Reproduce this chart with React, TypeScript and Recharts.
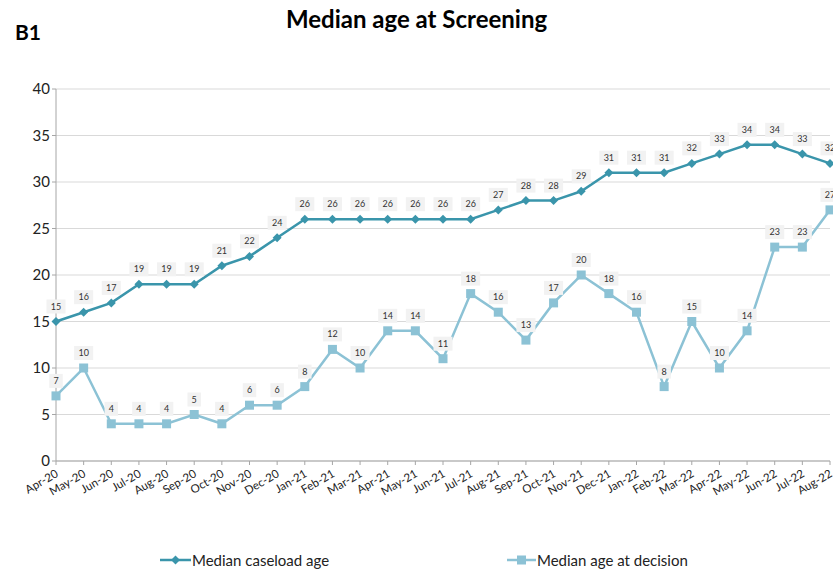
import React from "react";
import { LineChart, Line, XAxis, YAxis, CartesianGrid, LabelList, Legend } from "recharts";

const months = [
  "Apr-20","May-20","Jun-20","Jul-20","Aug-20","Sep-20","Oct-20","Nov-20","Dec-20",
  "Jan-21","Feb-21","Mar-21","Apr-21","May-21","Jun-21","Jul-21","Aug-21","Sep-21","Oct-21","Nov-21","Dec-21",
  "Jan-22","Feb-22","Mar-22","Apr-22","May-22","Jun-22","Jul-22","Aug-22",
];
const caseloadAge = [15,16,17,19,19,19,21,22,24,26,26,26,26,26,26,26,27,28,28,29,31,31,31,32,33,34,34,33,32];
const decisionAge = [7,10,4,4,4,5,4,6,6,8,12,10,14,14,11,18,16,13,17,20,18,16,8,15,10,14,23,23,27];
const yTicks = [0,5,10,15,20,25,30,35,40];

const data = months.map((m, i) => ({ month: m, caseload: caseloadAge[i], decision: decisionAge[i] }));

const C1 = "#3a95ab";
const C2 = "#8cc2d5";
const FONT = "Lato, 'Open Sans', sans-serif";

const Diamond = (props: any) => {
  const { cx, cy, index } = props;
  if (cx == null || cy == null) return <g key={index} />;
  const r = 4.5;
  return <polygon key={index} points={`${cx},${cy - r} ${cx + r},${cy} ${cx},${cy + r} ${cx - r},${cy}`} fill={C1} />;
};
const Square = (props: any) => {
  const { cx, cy, index } = props;
  if (cx == null || cy == null) return <g key={index} />;
  const s = 9;
  return <rect key={index} x={cx - s / 2} y={cy - s / 2} width={s} height={s} fill={C2} />;
};

const BoxLabel = (props: any) => {
  const { x, y, value } = props;
  const w = String(value).length * 5.5 + 8;
  return (
    <g>
      <rect x={x - w / 2} y={y - 22} width={w} height={14} fill="#f2f2f2" />
      <text x={x} y={y - 12} textAnchor="middle" fontSize={9} fill="#333" fontFamily={FONT}>{value}</text>
    </g>
  );
};

const XTick = (props: any) => {
  const { x, y, payload } = props;
  return (
    <text x={x + 3} y={y + 9} textAnchor="end" fontSize={11.5} fill="#222" fontFamily={FONT}
      transform={`rotate(-30, ${x + 3}, ${y + 9})`}>{payload.value}</text>
  );
};

const LegendContent = () => (
  <div style={{ position: "relative", width: 833, height: 40, fontFamily: FONT, fontSize: 15, color: "#222" }}>
    <div style={{ position: "absolute", left: 160, top: 19, display: "flex", alignItems: "center" }}>
      <svg width={31} height={20}>
        <line x1={0} y1={10} x2={31} y2={10} stroke={C1} strokeWidth={2.5} />
        <polygon points="15.5,5.5 20,10 15.5,14.5 11,10" fill={C1} />
      </svg>
      <span style={{ marginLeft: 1 }}>Median caseload age</span>
    </div>
    <div style={{ position: "absolute", left: 507, top: 19, display: "flex", alignItems: "center" }}>
      <svg width={29} height={20}>
        <line x1={0} y1={10} x2={29} y2={10} stroke={C2} strokeWidth={2.5} />
        <rect x={10} y={5.5} width={9} height={9} fill={C2} />
      </svg>
      <span style={{ marginLeft: 1 }}>Median age at decision</span>
    </div>
  </div>
);

export default function App() {
  return (
    <div style={{ position: "absolute", left: 0, top: 0, width: 833, height: 571, background: "#fff", fontFamily: FONT }}>
      <div style={{ position: "absolute", left: 15, top: 19, fontSize: 21, fontWeight: 700, color: "#000" }}>B1</div>
      <div style={{ position: "absolute", left: 0, width: 833, top: 4, textAlign: "center", fontSize: 24, fontWeight: 700, color: "#000" }}>
        Median age at Screening
      </div>
      <LineChart width={833} height={571} data={data} margin={{ top: 89, right: 3, left: 0, bottom: 0 }}>
        <CartesianGrid vertical={false} stroke="#d9d9d9" />
        <XAxis dataKey="month" interval={0} height={70} tick={<XTick />} stroke="#a6a6a6" tickSize={4} />
        <YAxis domain={[0, 40]} ticks={yTicks} width={56} stroke="#a6a6a6" tickSize={4}
          tick={{ fill: "#222", fontSize: 15, fontFamily: FONT }} />
        <Legend verticalAlign="bottom" height={40} content={<LegendContent />} />
        <Line dataKey="caseload" name="Median caseload age" stroke={C1} strokeWidth={2.5} dot={Diamond} isAnimationActive={false}>
          <LabelList dataKey="caseload" content={<BoxLabel />} />
        </Line>
        <Line dataKey="decision" name="Median age at decision" stroke={C2} strokeWidth={2.5} dot={Square} isAnimationActive={false}>
          <LabelList dataKey="decision" content={<BoxLabel />} />
        </Line>
      </LineChart>
    </div>
  );
}
